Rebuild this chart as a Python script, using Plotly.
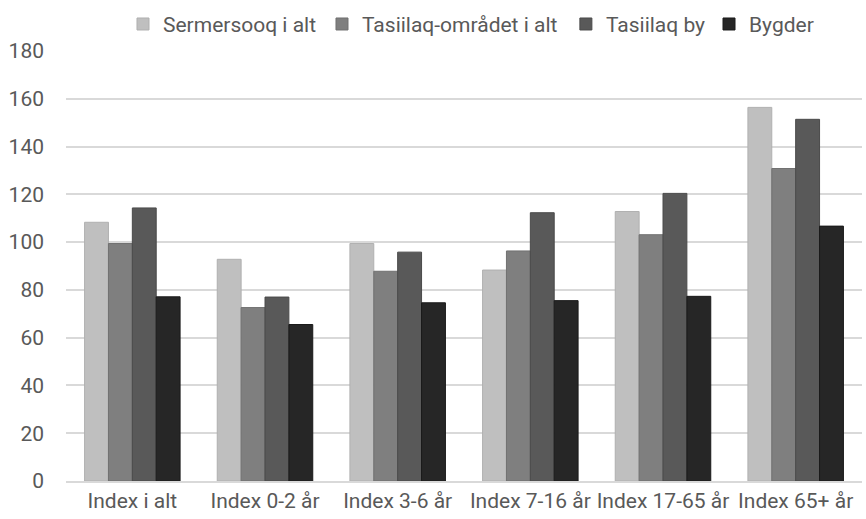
import plotly.graph_objects as go

categories = ["Index i alt", "Index 0-2 år", "Index 3-6 år", "Index 7-16 år", "Index 17-65 år", "Index 65+ år"]
series_names = ["Sermersooq i alt", "Tasiilaq-området i alt", "Tasiilaq by", "Bygder"]
sermersooq = [108.3, 92.8, 99.4, 88.3, 112.8, 156.4]
tasiilaq_omraadet = [99.4, 72.6, 87.8, 96.3, 103.1, 130.8]
tasiilaq_by = [114.3, 77.0, 95.8, 112.3, 120.4, 151.4]
bygder = [77.1, 65.5, 74.6, 75.5, 77.3, 106.7]
y_ticks = [0, 20, 40, 60, 80, 100, 120, 140, 160, 180]

colors = ["#bfbfbf", "#7f7f7f", "#595959", "#262626"]
lines = ["#b0b0b0", "#707070", "#4a4a4a", "#1a1a1a"]
values = [sermersooq, tasiilaq_omraadet, tasiilaq_by, bygder]
legend_x = [0.0716, 0.3216, 0.628, 0.8078]

FONT = "Roboto, sans-serif"
FS = 21

fig = go.Figure()
for i, (name, vals, c, lc) in enumerate(zip(series_names, values, colors, lines)):
    lg = "legend" if i == 0 else f"legend{i+1}"
    fig.add_trace(go.Bar(
        x=categories, y=vals, name=name, legend=lg,
        marker=dict(color=c, line=dict(color=lc, width=1)),
    ))

leg_common = dict(orientation="h", y=1.062, yanchor="middle", xanchor="left",
                  font=dict(size=FS, color="#595959"), bgcolor="rgba(0,0,0,0)",
                  itemwidth=30)
layout_legends = {}
for i, lx in enumerate(legend_x):
    key = "legend" if i == 0 else f"legend{i+1}"
    layout_legends[key] = dict(leg_common, x=lx)

fig.update_layout(
    width=866, height=519,
    barmode="group", bargap=0.28, bargroupgap=0,
    plot_bgcolor="white", paper_bgcolor="white",
    margin=dict(l=66, r=4, t=47, b=38),
    font=dict(family=FONT, size=FS, color="#595959"),
    showlegend=True,
    **layout_legends,
)
fig.update_yaxes(range=[0, 180], tickvals=y_ticks, showgrid=True, gridcolor="#d9d9d9",
                 gridwidth=1.5, zeroline=False, showline=False, ticks="",
                 ticklabelstandoff=21, tickfont=dict(size=FS, color="#595959"))
fig.update_xaxes(showline=True, linecolor="#d9d9d9", linewidth=1.5, ticks="",
                 tickfont=dict(size=FS, color="#595959"), ticklabelstandoff=0)

fig.write_html("out.html", post_script="document.body.style.margin='0px';",
               config={"displayModeBar": False})
